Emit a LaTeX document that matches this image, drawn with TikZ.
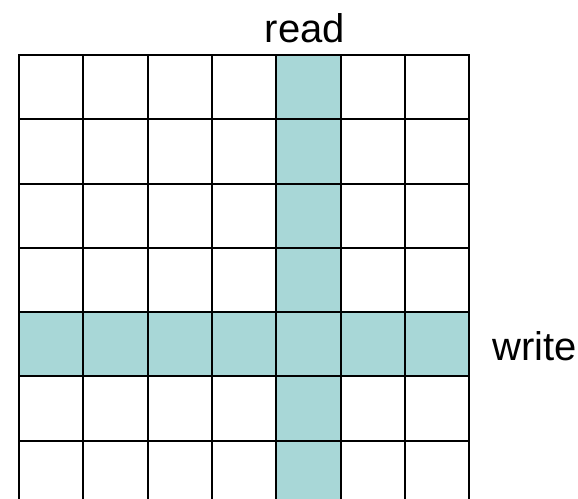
\documentclass[tikz,border=0pt]{standalone}
\usepackage{fontspec}
\setmainfont{Liberation Sans}
\definecolor{teal1}{RGB}{168,215,215}
\begin{document}
\begin{tikzpicture}[x=1pt,y=1pt,
  cell/.style={draw=black, line width=2pt, fill=white, minimum width=64.3pt, minimum height=64.3pt, inner sep=0pt, outer sep=0pt},
  hot/.style={cell, fill=teal1},
  lbl/.style={font=\fontsize{40}{48}\selectfont, inner sep=0pt}]
\useasboundingbox (0,0) rectangle (578,498);
\begin{scope}
\clip (0,0) rectangle (578,498);
\foreach \r in {0,...,6}{
  \foreach \c in {0,...,6}{
    \pgfmathtruncatemacro{\ishot}{(\r==4)||(\c==4)}
    \ifnum\ishot=0
      \node[cell] (c-\r-\c) at ({19+64.3*(\c+0.5)},{443-64.3*(\r+0.5)}) {};
    \fi
  }
}
\foreach \r in {0,...,6}{
  \foreach \c in {0,...,6}{
    \pgfmathtruncatemacro{\ishot}{(\r==4)||(\c==4)}
    \ifnum\ishot=1
      \node[hot] (c-\r-\c) at ({19+64.3*(\c+0.5)},{443-64.3*(\r+0.5)}) {};
    \fi
  }
}
\end{scope}
\node[lbl, anchor=base] (read) at (305,455.5) {read};
\node[lbl, anchor=base west] (write) at (492,137) {write};
\end{tikzpicture}
\end{document}
